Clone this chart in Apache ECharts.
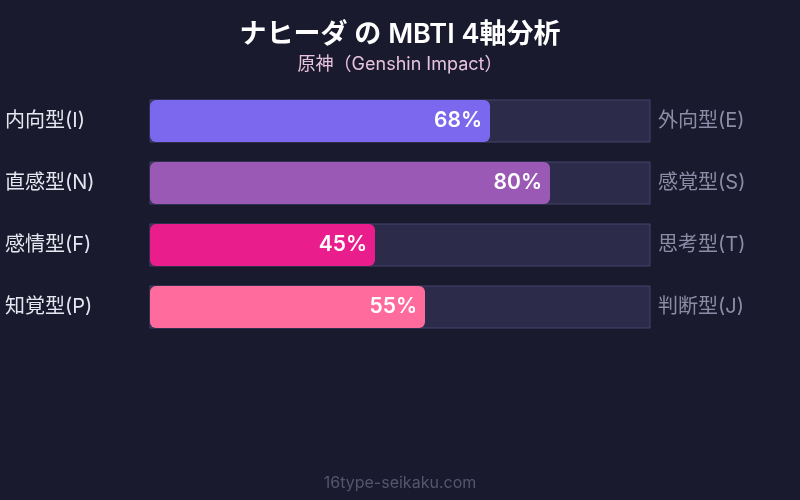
<!DOCTYPE html>
<html><head><meta charset="utf-8">
<script src="https://cdn.jsdelivr.net/npm/echarts@6/dist/echarts.min.js"></script>
<style>html,body{margin:0;padding:0;background:#1a1a2e;}#c{width:800px;height:500px;}</style>
</head><body><div id="c"></div>
<script>
const leftLabels = ['内向型(I)', '直感型(N)', '感情型(F)', '知覚型(P)'];
const rightLabels = ['外向型(E)', '感覚型(S)', '思考型(T)', '判断型(J)'];
const values = [68, 80, 45, 55];
const colors = ['#7b68ee', '#9b59b6', '#e91e8c', '#ff6b9d'];

const chart = echarts.init(document.getElementById('c'));
const font = 'Inter, "Noto Sans CJK JP", sans-serif';
chart.setOption({
  backgroundColor: '#1a1a2e',
  textStyle: { fontFamily: font },
  title: {
    text: 'ナヒーダ の MBTI 4軸分析',
    subtext: '原神（Genshin Impact）',
    left: 'center', top: 16, itemGap: 8,
    textStyle: { color: '#ffffff', fontSize: 27, fontWeight: 600, fontFamily: font },
    subtextStyle: { color: '#e6c3dc', fontSize: 18, fontFamily: font }
  },
  graphic: [{
    type: 'text', left: 'center', top: 475,
    style: { text: '16type-seikaku.com', fill: '#55556e', fontSize: 16, fontFamily: font }
  }],
  grid: { left: 150, right: 150, top: 90, bottom: 162 },
  xAxis: { type: 'value', min: 0, max: 100, show: false },
  yAxis: [{
    type: 'category', data: leftLabels, inverse: true, position: 'left',
    axisLine: { show: false }, axisTick: { show: false },
    axisLabel: { color: '#e6e6f0', fontSize: 20, align: 'left', margin: 145, fontFamily: font, padding: [0, 0, 4, 0] }
  }, {
    type: 'category', data: rightLabels, inverse: true, position: 'right',
    axisLine: { show: false }, axisTick: { show: false },
    axisLabel: { color: '#8c8ca6', fontSize: 20, margin: 8, fontFamily: font, padding: [0, 0, 4, 0] }
  }],
  series: [{
    type: 'bar', data: values.map((v, i) => ({ value: v, itemStyle: { color: colors[i] } })),
    barWidth: 42,
    itemStyle: { borderRadius: 6 },
    showBackground: true,
    backgroundStyle: { color: '#2d2b4a', borderColor: '#45436a', borderWidth: 1 },
    label: {
      show: true, position: 'insideRight', distance: 8,
      formatter: '{c}%', color: '#ffffff', fontSize: 21, fontWeight: 600, fontFamily: font
    },
    silent: true, animation: false
  }]
});
</script></body></html>
